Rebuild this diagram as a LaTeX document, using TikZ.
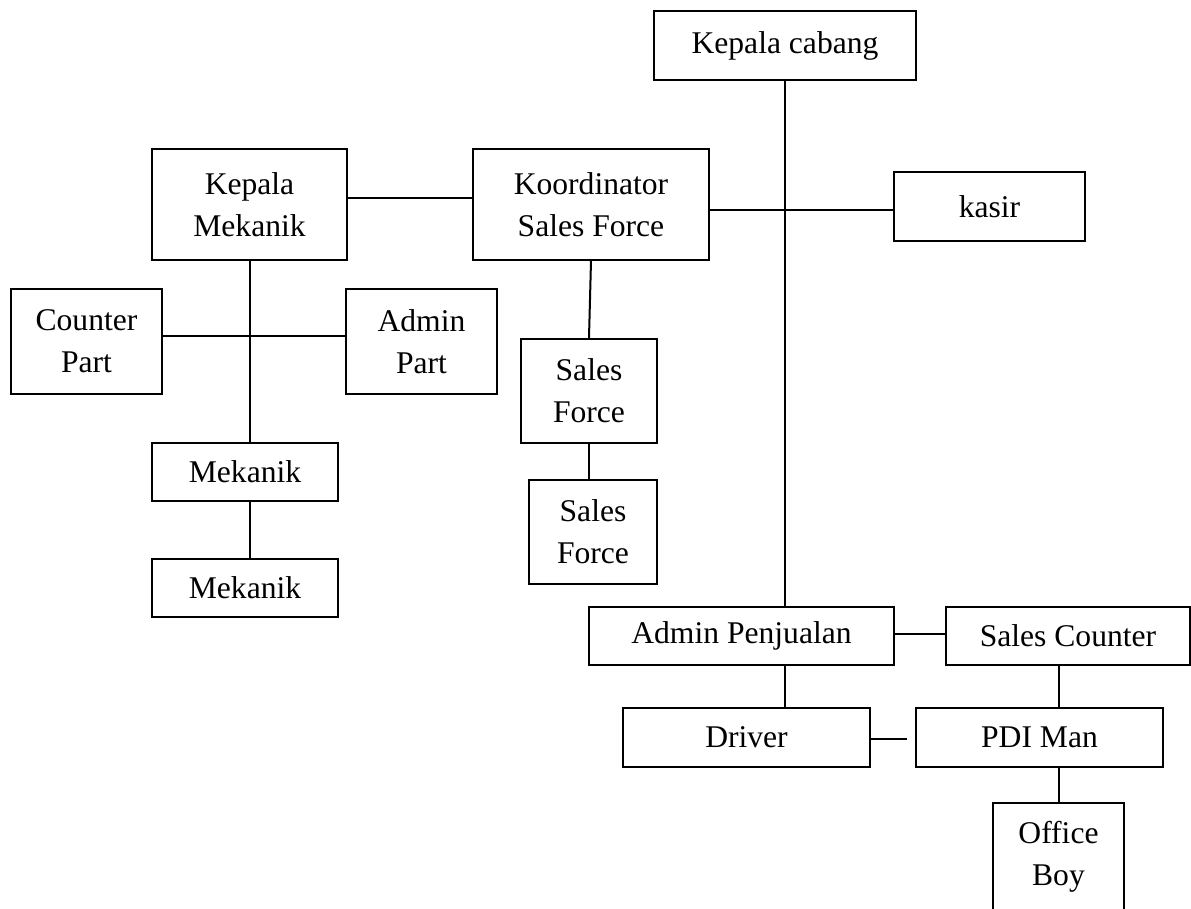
\documentclass[tikz,border=0pt]{standalone}
\usepackage{fontspec}
\setmainfont{Liberation Serif}

\begin{document}
\begin{tikzpicture}[x=0.5pt, y=-0.5pt, line width=1pt,
    box/.style={draw, align=center, inner sep=0pt, font=\fontsize{15.8}{21}\selectfont}]
    \useasboundingbox (0,0) rectangle (1191,909);

    \node[box, minimum width=131pt, minimum height=34.5pt] (kc) at (785,45.5) {Kepala cabang};
    \node[box, minimum width=95.5pt, minimum height=34.5pt] (kasir) at (989.5,206.5) {kasir};
    \node[box, minimum width=97.5pt, minimum height=55.5pt] (km) at (249.5,204.5) {Kepala\\Mekanik};
    \node[box, minimum width=118pt, minimum height=55.5pt] (koord) at (591,204.5) {Koordinator\\Sales Force};
    \node[box, minimum width=75.5pt, minimum height=52.5pt] (cp) at (86.5,341.5) {Counter\\Part};
    \node[box, minimum width=75.5pt, minimum height=52.5pt] (ap) at (421.5,341.5) {Admin\\Part};
    \node[box, minimum width=68pt, minimum height=52pt] (sf1) at (589,391) {Sales\\Force};
    \node[box, minimum width=64pt, minimum height=52pt] (sf2) at (593,532) {Sales\\Force};
    \node[box, minimum width=93pt, minimum height=29pt] (mek1) at (245,472) {Mekanik};
    \node[box, minimum width=93pt, minimum height=29pt] (mek2) at (245,588) {Mekanik};
    \node[box, minimum width=152.5pt, minimum height=29pt] (adm) at (741.5,636) {Admin Penjualan};
    \node[box, minimum width=122pt, minimum height=29pt] (sc) at (1068,636) {Sales Counter};
    \node[box, minimum width=123.5pt, minimum height=29.5pt] (drv) at (746.5,737.5) {Driver};
    \node[box, minimum width=123.5pt, minimum height=29.5pt] (pdi) at (1039.5,737.5) {PDI Man};
    \node[box, minimum width=65.5pt, minimum height=54pt] (ob) at (1058.5,857) {Office\\Boy};

    \draw (kc.south) -- (kc.south |- adm.north);
    \draw (kc.south |- adm.south) -- (kc.south |- drv.north);
    \draw ([yshift=-1.75pt]koord.east |- kasir.west) -- ([yshift=-1.75pt]kasir.west);
    \draw ([yshift=3pt]km.east) -- ([yshift=3pt]koord.west);
    \draw (km.south) -- (km.south |- mek1.north);
    \draw ([yshift=2.75pt]cp.east) -- ([yshift=2.75pt]ap.west);
    \draw (km.south |- mek1.south) -- (km.south |- mek2.north);
    \draw (koord.south) -- (sf1.north);
    \draw (sf1.south) -- (sf1.south |- sf2.north);
    \draw ([yshift=1pt]adm.east) -- ([yshift=1pt]sc.west);
    \draw[shorten >=4pt] ([yshift=-1pt]drv.east) -- ([yshift=-1pt]pdi.west);
    \draw (ob.north |- sc.south) -- (ob.north |- pdi.north);
    \draw (ob.north |- pdi.south) -- (ob.north);
\end{tikzpicture}
\end{document}
